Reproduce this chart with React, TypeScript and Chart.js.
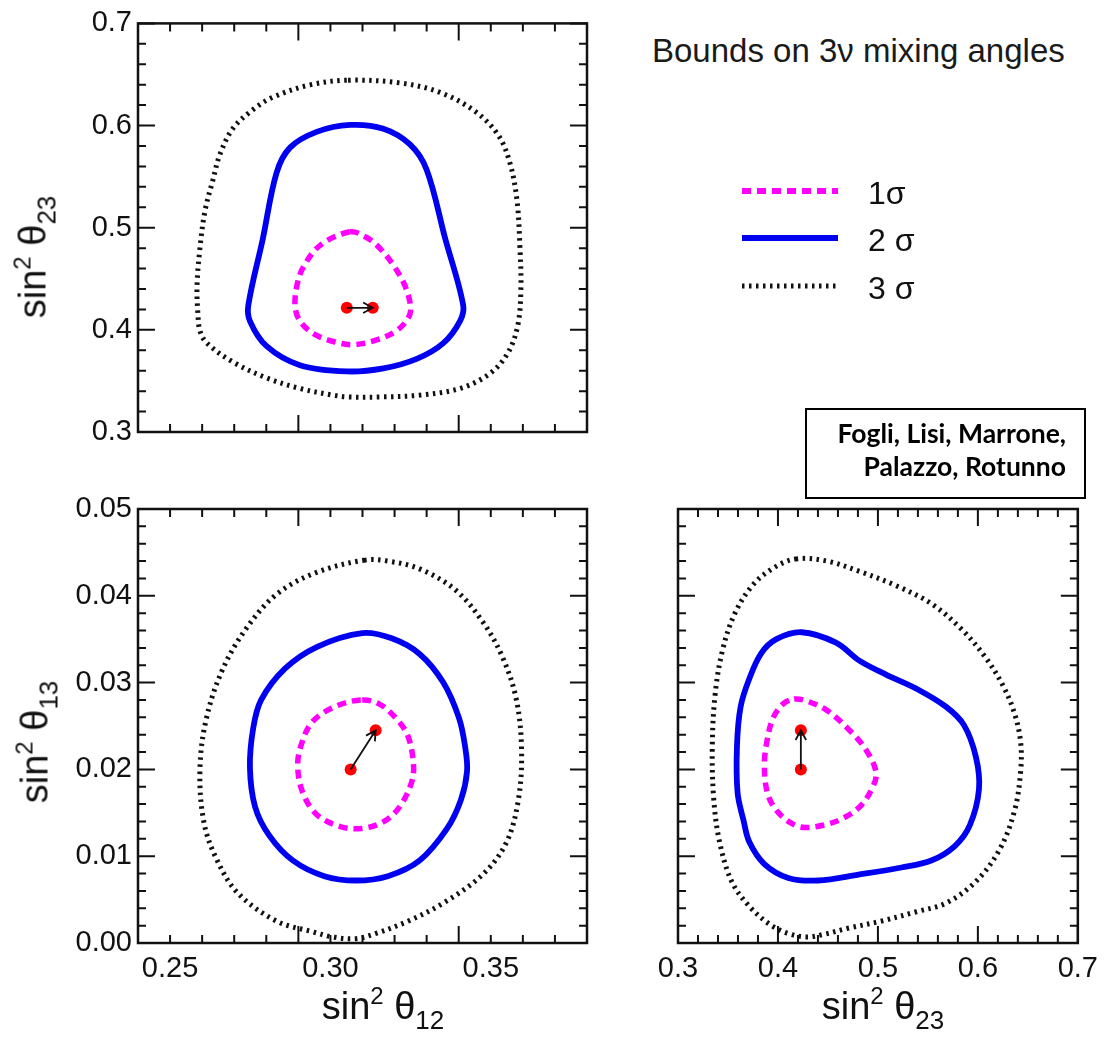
import React, { useEffect, useRef } from 'react';
import { Chart, registerables } from 'chart.js';

Chart.register(...registerables);

type Pt = [number, number];

// ---------- tick labels ----------
const s12TickLabels = [0.25, 0.3, 0.35];
const s23TickLabels = [0.3, 0.4, 0.5, 0.6, 0.7];
const s13TickLabels = [0.0, 0.01, 0.02, 0.03, 0.04, 0.05];

// ---------- legend ----------
const sigmaLabels = ['1σ', '2 σ', '3 σ'];
const titleText = 'Bounds on 3ν mixing angles';
const authorLines = ['Fogli, Lisi, Marrone,', 'Palazzo, Rotunno'];

// ---------- panel A: x = sin²θ12, y = sin²θ23 ----------
const a1sigma: Pt[] = [
  [0.3061, 0.496], [0.3113, 0.4904], [0.3155, 0.4796], [0.3201, 0.4611], [0.3233, 0.4426],
  [0.325, 0.4225], [0.3243, 0.4117], [0.3207, 0.3994], [0.3144, 0.3901], [0.3071, 0.3855],
  [0.3009, 0.3886], [0.2947, 0.3963], [0.2905, 0.4086], [0.289, 0.4225], [0.2895, 0.4426],
  [0.2915, 0.4611], [0.2968, 0.4827],
];
const a2sigma: Pt[] = [
  [0.3061, 0.6006], [0.3165, 0.5969], [0.3248, 0.5815], [0.33, 0.5568], [0.3357, 0.4904],
  [0.3414, 0.4241], [0.3404, 0.4086], [0.3352, 0.387], [0.3269, 0.3716], [0.3165, 0.3623],
  [0.3051, 0.3593], [0.2905, 0.3654], [0.2801, 0.384], [0.2749, 0.4086], [0.2744, 0.4241],
  [0.2789, 0.4889], [0.2832, 0.5537], [0.2874, 0.5784], [0.2957, 0.5938],
];
const a3sigma: Pt[] = [
  [0.3055, 0.6444], [0.3217, 0.6417], [0.3342, 0.6324], [0.3451, 0.6139], [0.3523, 0.5907],
  [0.356, 0.563], [0.3582, 0.5259], [0.3591, 0.4796], [0.3594, 0.4426], [0.3585, 0.4056],
  [0.3554, 0.3778], [0.3498, 0.3574], [0.3404, 0.3426], [0.3279, 0.3361], [0.3155, 0.3343],
  [0.3055, 0.3343], [0.3008, 0.3361], [0.2905, 0.3426], [0.2802, 0.3528], [0.2696, 0.3685],
  [0.2615, 0.387], [0.2593, 0.3991], [0.2587, 0.4148], [0.2584, 0.4426], [0.2593, 0.4796],
  [0.2609, 0.5167], [0.2634, 0.5472], [0.2656, 0.5722], [0.2696, 0.5972], [0.2759, 0.6157],
  [0.2821, 0.6278], [0.2936, 0.6398],
];
const aBestFit: Pt[] = [[0.3051, 0.4216], [0.3132, 0.4216]];

// ---------- panel B: x = sin²θ12, y = sin²θ13 ----------
const b1sigma: Pt[] = [
  [0.3099, 0.028], [0.3154, 0.0275], [0.3204, 0.0259], [0.3241, 0.0239], [0.3259, 0.0206],
  [0.3253, 0.0185], [0.3216, 0.0157], [0.3167, 0.014], [0.3099, 0.0132], [0.3031, 0.0134],
  [0.2957, 0.0148], [0.2914, 0.0173], [0.2898, 0.0202], [0.2907, 0.0226], [0.2944, 0.0255],
  [0.3019, 0.0273],
];
const b2sigma: Pt[] = [
  [0.3099, 0.0357], [0.3191, 0.0351], [0.3278, 0.0333], [0.3352, 0.03], [0.3401, 0.0259],
  [0.342, 0.0226], [0.3426, 0.0198], [0.3407, 0.0165], [0.3364, 0.0132], [0.3278, 0.0095],
  [0.3179, 0.0077], [0.308, 0.0072], [0.2981, 0.0077], [0.2883, 0.0095], [0.2809, 0.0124],
  [0.2765, 0.0157], [0.2749, 0.0202], [0.2759, 0.0247], [0.2784, 0.028], [0.2858, 0.0316],
  [0.2957, 0.0341],
];
const b3sigma: Pt[] = [
  [0.3105, 0.0441], [0.3179, 0.044], [0.3278, 0.0431], [0.3389, 0.0407], [0.3475, 0.037],
  [0.3537, 0.0329], [0.358, 0.028], [0.3596, 0.0222], [0.3586, 0.0165], [0.3549, 0.0116],
  [0.3475, 0.0079], [0.3352, 0.0046], [0.3241, 0.0025], [0.3142, 0.0011], [0.308, 0.0005],
  [0.3006, 0.0007], [0.2944, 0.0013], [0.2833, 0.0025], [0.271, 0.0058], [0.2642, 0.0099],
  [0.2605, 0.014], [0.2593, 0.0198], [0.2611, 0.0255], [0.266, 0.0312], [0.2735, 0.0361],
  [0.2833, 0.0402], [0.2957, 0.0427],
];
const bBestFit: Pt[] = [[0.3063, 0.02], [0.3141, 0.0245]];

// ---------- panel C: x = sin²θ23, y = sin²θ13 ----------
const c1sigma: Pt[] = [
  [0.4162, 0.0281], [0.4282, 0.0279], [0.449, 0.0268], [0.4699, 0.0247], [0.4878, 0.0223],
  [0.4982, 0.0196], [0.4937, 0.0177], [0.4818, 0.0157], [0.4639, 0.0143], [0.446, 0.0136],
  [0.4267, 0.0133], [0.4133, 0.0138], [0.3984, 0.0153], [0.3894, 0.0173], [0.3864, 0.0206],
  [0.3894, 0.0235], [0.3954, 0.026], [0.4058, 0.0276],
];
const c2sigma: Pt[] = [
  [0.4237, 0.0358], [0.458, 0.0346], [0.4818, 0.0325], [0.5086, 0.0309], [0.5384, 0.0293],
  [0.5683, 0.0272], [0.5861, 0.0251], [0.5981, 0.0214], [0.6011, 0.0177], [0.5921, 0.0136],
  [0.5772, 0.0112], [0.5534, 0.0095], [0.5235, 0.0087], [0.4818, 0.0079], [0.4401, 0.0072],
  [0.4103, 0.0075], [0.3864, 0.0091], [0.3715, 0.0116], [0.3656, 0.0141], [0.3596, 0.0173],
  [0.359, 0.0227], [0.3626, 0.0272], [0.3715, 0.0305], [0.3834, 0.0334], [0.3984, 0.035],
];
const c3sigma: Pt[] = [
  [0.4177, 0.04425], [0.449, 0.044], [0.4818, 0.0428], [0.5176, 0.0412], [0.5534, 0.0391],
  [0.5832, 0.0362], [0.607, 0.033], [0.6249, 0.0297], [0.6368, 0.0264], [0.6428, 0.0231],
  [0.6428, 0.0198], [0.6368, 0.0153], [0.6219, 0.0108], [0.5981, 0.0071], [0.5682, 0.0046],
  [0.5384, 0.0036], [0.5027, 0.0025], [0.4699, 0.0017], [0.446, 0.001], [0.4282, 0.0007],
  [0.4103, 0.0011], [0.3924, 0.0021], [0.3715, 0.0042], [0.3537, 0.0071], [0.3417, 0.0116],
  [0.3358, 0.0165], [0.3343, 0.0227], [0.3373, 0.0288], [0.3447, 0.0338], [0.3566, 0.0379],
  [0.3745, 0.0412], [0.3954, 0.0432],
];
const cBestFit: Pt[] = [[0.4229, 0.02], [0.4229, 0.0245]];

// ---------- styles ----------
const FONT = '"Liberation Sans", Arial, Helvetica, sans-serif';
const MAGENTA = '#ff00ff';
const BLUE = '#0000f0';
const BLACK = '#111111';
const RED = '#ff0000';

function ticksBetween(min: number, max: number, step: number): number[] {
  const out: number[] = [];
  const n = Math.round((max - min) / step);
  for (let i = 0; i <= n; i++) out.push(min + i * step);
  return out;
}

interface Rect { left: number; top: number; right: number; bottom: number }

interface PanelProps {
  box: { left: number; top: number; width: number; height: number };
  area: Rect;
  xRange: [number, number];
  yRange: [number, number];
  xLabels: number[] | null;
  yLabels: number[] | null;
  xDec: number;
  yDec: number;
  xMajorStep: number;
  xMinorStep: number;
  yMajorStep: number;
  yMinorStep: number;
  contours: [Pt[], Pt[], Pt[]];
  fit: Pt[];
}

// closed contour: wrap one point on each side so the spline is smooth at the seam,
// and hide the two wrap-around segments.
function loopData(pts: Pt[]) {
  const n = pts.length;
  const seq: Pt[] = [pts[n - 1], ...pts, pts[0], pts[1]];
  return { data: seq.map(([x, y]) => ({ x, y })), hideA: 0, hideB: n + 1 };
}

function Panel(p: PanelProps) {
  const ref = useRef<HTMLCanvasElement | null>(null);

  useEffect(() => {
    if (!ref.current) return;
    const { box, area } = p;
    const showX = !!p.xLabels;
    const showY = !!p.yLabels;
    const xAxisH = box.top + box.height - area.bottom;
    const yAxisW = area.left - box.left;

    const xMajors = ticksBetween(p.xRange[0], p.xRange[1], p.xMajorStep);
    const xMinors = ticksBetween(p.xRange[0], p.xRange[1], p.xMinorStep);
    const yMajors = ticksBetween(p.yRange[0], p.yRange[1], p.yMajorStep);
    const yMinors = ticksBetween(p.yRange[0], p.yRange[1], p.yMinorStep);
    const isMajor = (v: number, majors: number[], step: number) =>
      majors.some((m) => Math.abs(m - v) < step * 0.01);

    const framePlugin = {
      id: 'frameTicks',
      afterDatasetsDraw(chart: any) {
        const { ctx, chartArea: a, scales } = chart;
        const sx = scales.x;
        const sy = scales.y;
        ctx.save();
        ctx.strokeStyle = BLACK;
        ctx.lineWidth = 2;
        ctx.beginPath();
        xMinors.forEach((v) => {
          const len = isMajor(v, xMajors, p.xMinorStep) ? 17 : 8;
          const px = sx.getPixelForValue(v);
          ctx.moveTo(px, a.bottom);
          ctx.lineTo(px, a.bottom - len);
          ctx.moveTo(px, a.top);
          ctx.lineTo(px, a.top + len);
        });
        yMinors.forEach((v) => {
          const len = isMajor(v, yMajors, p.yMinorStep) ? 17 : 8;
          const py = sy.getPixelForValue(v);
          ctx.moveTo(a.left, py);
          ctx.lineTo(a.left + len, py);
          ctx.moveTo(a.right, py);
          ctx.lineTo(a.right - len, py);
        });
        ctx.stroke();
        ctx.lineWidth = 2.5;
        ctx.strokeRect(a.left, a.top, a.right - a.left, a.bottom - a.top);
        ctx.restore();
      },
    };

    const arrowPlugin = {
      id: 'fitArrow',
      afterDatasetsDraw(chart: any) {
        const { ctx, scales } = chart;
        const x0 = scales.x.getPixelForValue(p.fit[0][0]);
        const y0 = scales.y.getPixelForValue(p.fit[0][1]);
        const x1 = scales.x.getPixelForValue(p.fit[1][0]);
        const y1 = scales.y.getPixelForValue(p.fit[1][1]);
        const ang = Math.atan2(y1 - y0, x1 - x0);
        const head = 11;
        const spread = 0.5;
        ctx.save();
        ctx.strokeStyle = BLACK;
        ctx.lineWidth = 1.8;
        ctx.beginPath();
        ctx.moveTo(x0, y0);
        ctx.lineTo(x1, y1);
        ctx.moveTo(x1 - head * Math.cos(ang - spread), y1 - head * Math.sin(ang - spread));
        ctx.lineTo(x1, y1);
        ctx.lineTo(x1 - head * Math.cos(ang + spread), y1 - head * Math.sin(ang + spread));
        ctx.stroke();
        ctx.restore();
      },
    };

    const toXY = (pts: Pt[]) => pts.map(([x, y]) => ({ x, y }));
    const contourDataset = (pts: Pt[], label: string, style: any) => {
      const L = loopData(pts);
      return {
        label,
        data: L.data,
        showLine: true,
        pointRadius: 0,
        tension: 0.35,
        fill: false,
        segment: {
          borderColor: (c: any) =>
            c.p0DataIndex === L.hideA || c.p0DataIndex === L.hideB ? 'rgba(0,0,0,0)' : undefined,
        },
        ...style,
      };
    };

    const tickFont = { family: FONT, size: 29 };

    const chart = new Chart(ref.current, {
      type: 'scatter',
      data: {
        datasets: [
          {
            label: 'best fit',
            data: toXY(p.fit),
            showLine: false,
            pointRadius: 6,
            pointBackgroundColor: RED,
            pointBorderWidth: 0,
          },
          contourDataset(p.contours[0], sigmaLabels[0], {
            borderColor: MAGENTA,
            borderWidth: 5.5,
            borderDash: [9, 6],
          }),
          contourDataset(p.contours[1], sigmaLabels[1], {
            borderColor: BLUE,
            borderWidth: 5.8,
          }),
          contourDataset(p.contours[2], sigmaLabels[2], {
            borderColor: BLACK,
            borderWidth: 5,
            borderDash: [2.5, 4.5],
            borderCapStyle: 'butt',
          }),
        ] as any,
      },
      options: {
        animation: false,
        responsive: false,
        events: [],
        layout: {
          padding: {
            left: showY ? 0 : yAxisW,
            right: box.left + box.width - area.right,
            top: area.top - box.top,
            bottom: showX ? 0 : xAxisH,
          },
        },
        plugins: {
          legend: { display: false },
          tooltip: { enabled: false },
        },
        scales: {
          x: {
            type: 'linear',
            min: p.xRange[0],
            max: p.xRange[1],
            display: showX,
            grid: { display: false, drawTicks: false },
            border: { display: false },
            ticks: {
              font: tickFont,
              color: BLACK,
              padding: 9,
              maxRotation: 0,
              autoSkip: false,
              callback: (v: any) => Number(v).toFixed(p.xDec),
            },
            afterBuildTicks: (s: any) => {
              if (p.xLabels) s.ticks = p.xLabels.map((v) => ({ value: v }));
            },
            afterFit: (s: any) => {
              s.height = xAxisH;
            },
          },
          y: {
            type: 'linear',
            min: p.yRange[0],
            max: p.yRange[1],
            display: showY,
            grid: { display: false, drawTicks: false },
            border: { display: false },
            ticks: {
              font: tickFont,
              color: BLACK,
              padding: 6,
              autoSkip: false,
              callback: (v: any) => Number(v).toFixed(p.yDec),
            },
            afterBuildTicks: (s: any) => {
              if (p.yLabels) s.ticks = p.yLabels.map((v) => ({ value: v }));
            },
            afterFit: (s: any) => {
              s.width = yAxisW;
            },
          },
        },
      } as any,
      plugins: [framePlugin, arrowPlugin],
    });
    return () => chart.destroy();
  }, []);

  return (
    <canvas
      ref={ref}
      width={p.box.width}
      height={p.box.height}
      style={{
        position: 'absolute',
        left: p.box.left,
        top: p.box.top,
        width: p.box.width,
        height: p.box.height,
      }}
    />
  );
}

const TITLE_SIZE = 38;

function AxisTitle({ sub, x, y, rotate }: { sub: string; x: number; y: number; rotate?: boolean }) {
  return (
    <div
      style={{
        position: 'absolute',
        left: x,
        top: y,
        transform: rotate ? 'translate(-50%, -50%) rotate(-90deg)' : 'translate(-50%, -50%)',
        fontFamily: FONT,
        fontSize: TITLE_SIZE,
        lineHeight: `${TITLE_SIZE}px`,
        whiteSpace: 'nowrap',
        color: BLACK,
      }}
    >
      sin
      <span style={{ fontSize: 24, position: 'relative', top: -15 }}>2</span>
      {' θ'}
      <span style={{ fontSize: 26, position: 'relative', top: 10 }}>{sub}</span>
    </div>
  );
}

export default function App() {
  const legendY = [191, 238, 286];
  return (
    <div style={{ position: 'absolute', left: 0, top: 0, width: 1107, height: 1037, background: '#fff', overflow: 'hidden' }}>
      <Panel
        box={{ left: 0, top: 0, width: 600, height: 476 }}
        area={{ left: 138, top: 22, right: 587, bottom: 454 }}
        xRange={[0.24, 0.38]}
        yRange={[0.3, 0.7]}
        xLabels={null}
        yLabels={s23TickLabels}
        xDec={2}
        yDec={1}
        xMajorStep={0.05}
        xMinorStep={0.01}
        yMajorStep={0.1}
        yMinorStep={0.02}
        contours={[a1sigma, a2sigma, a3sigma]}
        fit={aBestFit}
      />
      <Panel
        box={{ left: 0, top: 480, width: 600, height: 520 }}
        area={{ left: 138, top: 509, right: 587, bottom: 943 }}
        xRange={[0.24, 0.38]}
        yRange={[0.0, 0.05]}
        xLabels={s12TickLabels}
        yLabels={s13TickLabels}
        xDec={2}
        yDec={2}
        xMajorStep={0.05}
        xMinorStep={0.01}
        yMajorStep={0.01}
        yMinorStep={0.002}
        contours={[b1sigma, b2sigma, b3sigma]}
        fit={bBestFit}
      />
      <Panel
        box={{ left: 600, top: 480, width: 507, height: 520 }}
        area={{ left: 639, top: 509, right: 1087, bottom: 943 }}
        xRange={[0.3, 0.7]}
        yRange={[0.0, 0.05]}
        xLabels={s23TickLabels}
        yLabels={null}
        xDec={1}
        yDec={2}
        xMajorStep={0.1}
        xMinorStep={0.02}
        yMajorStep={0.01}
        yMinorStep={0.002}
        contours={[c1sigma, c2sigma, c3sigma]}
        fit={cBestFit}
      />

      <AxisTitle sub="23" x={35} y={257} rotate />
      <AxisTitle sub="13" x={37} y={742} rotate />
      <AxisTitle sub="12" x={383} y={1008} />
      <AxisTitle sub="23" x={883} y={1008} />

      <div
        style={{
          position: 'absolute',
          left: 652,
          top: 34,
          fontFamily: FONT,
          fontSize: 33,
          lineHeight: '33px',
          color: '#1a1a1a',
          whiteSpace: 'nowrap',
        }}
      >
        {titleText}
      </div>

      <svg width={1107} height={1037} style={{ position: 'absolute', left: 0, top: 0, pointerEvents: 'none' }}>
        <line x1={742} x2={838} y1={legendY[0]} y2={legendY[0]} stroke={MAGENTA} strokeWidth={6} strokeDasharray="9 6" />
        <line x1={742} x2={838} y1={legendY[1]} y2={legendY[1]} stroke={BLUE} strokeWidth={6} />
        <line x1={742} x2={838} y1={legendY[2]} y2={legendY[2]} stroke={BLACK} strokeWidth={5} strokeDasharray="2.5 4.5" />
      </svg>
      {sigmaLabels.map((s, i) => (
        <div
          key={s}
          style={{
            position: 'absolute',
            left: 868,
            top: legendY[i] + 13 - 27,
            fontFamily: FONT,
            fontSize: 32,
            lineHeight: '32px',
            color: BLACK,
            whiteSpace: 'nowrap',
          }}
        >
          {s}
        </div>
      ))}

      <div
        style={{
          position: 'absolute',
          left: 805,
          top: 408,
          width: 281,
          height: 91,
          boxSizing: 'border-box',
          border: '2px solid #000',
          background: '#fff',
        }}
      />
      <div
        style={{
          position: 'absolute',
          left: 805,
          top: 417,
          width: 261,
          textAlign: 'right',
          fontFamily: 'Lato, "Open Sans", sans-serif',
          fontWeight: 700,
          fontSize: 26.5,
          lineHeight: '33px',
          color: '#000',
        }}
      >
        {authorLines.map((l) => (
          <div key={l}>{l}</div>
        ))}
      </div>
    </div>
  );
}
